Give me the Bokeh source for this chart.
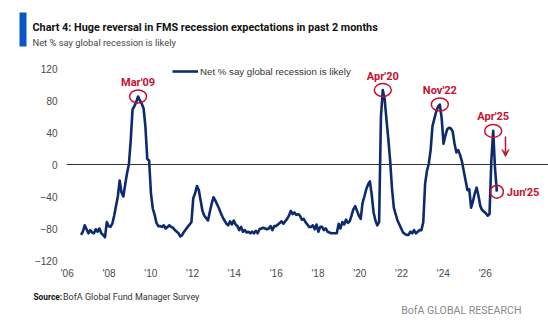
import pandas as pd
from bokeh.plotting import figure
from bokeh.layouts import column
from bokeh.models import (Range1d, LinearAxis, FixedTicker, Label, Span, Legend,
                          LegendItem, Arrow, VeeHead, BoxAnnotation, ColumnDataSource)
from bokeh.embed import file_html
from bokeh.resources import INLINE
from bokeh.core.properties import value

# ---------------- data (monthly, net % saying global recession is likely) ----------------
start_month = "2006-08"
net_recession = [
    # 2006 Aug-Dec
    -88, -84, -76, -81, -86,
    # 2007
    -82, -85, -86, -81, -84, -80, -86, -88, -91, -72, -77, -78,
    # 2008
    -74, -64, -52, -40, -20, -35, -40, -25, -11, 0, 30, 69,
    # 2009
    73, 78, 85, 80, 76, 70, 47, 7, 5, -36, -55, -63,
    # 2010
    -73, -77, -77, -78, -76, -80, -78, -76, -78, -79, -82, -84,
    # 2011
    -86, -90, -88, -84, -81, -78, -75, -72, -42, -36, -27, -32,
    # 2012
    -45, -58, -64, -67, -70, -59, -49, -41, -45, -50, -55, -61,
    # 2013
    -66, -70, -74, -76, -71, -75, -70, -75, -77, -82, -78, -84,
    # 2014
    -82, -85, -84, -86, -84, -86, -83, -86, -81, -80, -79, -80,
    # 2015
    -81, -80, -77, -82, -77, -77, -75, -73, -71, -74, -71, -68,
    # 2016
    -64, -58, -62, -60, -63, -62, -64, -69, -68, -72, -75, -78,
    # 2017
    -78, -76, -81, -75, -84, -78, -78, -82, -80, -84, -85, -86,
    # 2018
    -86, -86, -86, -74, -80, -72, -75, -69, -73, -71, -64, -56,
    # 2019
    -52, -58, -64, -68, -48, -40, -31, -25, -21, -38, -60, -70,
    # 2020
    -76, -72, 60, 93, 82, 56, 32, 5, -30, -54, -62, -70,
    # 2021
    -75, -80, -85, -87, -88, -88, -84, -86, -82, -86, -84, -82,
    # 2022
    -82, -72, -24, -8, 1, 18, 48, 57, 66, 72, 75, 58,
    # 2023
    26, 36, 44, 46, 45, 41, 26, 15, 18, 12, 4, -8,
    # 2024
    -20, -32, -31, -54, -46, -36, -29, -39, -52, -57, -59, -61,
    # 2025 Jan-Jun
    -64, -62, 5, 42, -5, -34,
]
series_name = "Net % say global recession is likely"

y_ticks = [-120, -80, -40, 0, 40, 80, 120]
x_tick_years = [2006, 2008, 2010, 2012, 2014, 2016, 2018, 2020, 2022, 2024, 2026]
x_tick_labels = ["'06", "'08", "'10", "'12", "'14", "'16", "'18", "'20", "'22", "'24", "'26"]

callouts = ["Mar'09", "Apr'20", "Nov'22", "Apr'25", "Jun'25"]
callout_months = ["2009-03", "2020-04", "2022-11", "2025-04", "2025-06"]

title_text = "Chart 4: Huge reversal in FMS recession expectations in past 2 months"
subtitle_text = "Net % say global recession is likely"
source_bold = "Source:"
source_text = "BofA Global Fund Manager Survey"
brand_text = "BofA GLOBAL RESEARCH"

# ---------------- derived ----------------
months = pd.period_range(start_month, periods=len(net_recession), freq="M")
x_years = [m.year + (m.month - 1) / 12 for m in months]
src = ColumnDataSource(dict(x=x_years, y=net_recession))

lookup = {str(m): (xx, yy) for m, xx, yy in zip(months, x_years, net_recession)}
cx = [lookup[m][0] for m in callout_months]
cy = [lookup[m][1] for m in callout_months]

NAVY = "#0c2b6e"
RED = "#c8102e"
BLUE = "#0a55c8"
HEAD_FONT = "Roboto"
BODY = "Liberation Sans"

W = 548
HEAD_H, MAIN_H, FOOT_H = 56, 228, 40


def blank_fig(h):
    f = figure(width=W, height=h, output_backend="svg", toolbar_location=None,
               x_range=Range1d(0, W), y_range=Range1d(h, 0),
               x_axis_type=None, y_axis_type=None, title=None, frame_align=False,
               min_border_left=0, min_border_right=0, min_border_top=0, min_border_bottom=0)
    f.outline_line_color = None
    f.background_fill_color = "white"
    f.border_fill_color = "white"
    f.grid.visible = False
    return f


# ---------------- header ----------------
head = blank_fig(HEAD_H)
head.add_layout(BoxAnnotation(left=19, right=26, top=12, bottom=46,
                              fill_color=BLUE, fill_alpha=1, line_color=None))
head.add_layout(Label(x=32, y=26.8, text=title_text, text_font=HEAD_FONT, text_font_style="bold",
                      text_font_size="10.85px", text_color="#111111", text_baseline="alphabetic"))
head.add_layout(Label(x=32, y=41.8, text=subtitle_text, text_font=HEAD_FONT,
                      text_font_size="9.35px", text_color="#444444", text_baseline="alphabetic"))

# ---------------- main chart ----------------
FRAME_TOP, FRAME_BOTTOM, LEFT = 1, 24, 66
p = figure(width=W, height=MAIN_H, output_backend="svg", toolbar_location=None,
           x_range=Range1d(2005.925, 2027.755), y_range=Range1d(-120, 133.75),
           x_axis_type=None, y_axis_type=None, title=None, frame_align=False,
           min_border_left=LEFT, min_border_right=0,
           min_border_top=FRAME_TOP, min_border_bottom=FRAME_BOTTOM)
p.outline_line_color = None
p.background_fill_color = "white"
p.border_fill_color = "white"

yax = LinearAxis(ticker=FixedTicker(ticks=y_ticks))
yax.axis_line_color = None
yax.major_tick_line_color = None
yax.major_tick_out = 0
yax.major_tick_in = 0
yax.minor_tick_line_color = None
yax.major_label_standoff = 9
yax.major_label_text_font = BODY
yax.major_label_text_font_size = "10px"
yax.major_label_text_color = "#4a4a4a"
p.add_layout(yax, "left")

# x labels sit on their own evenly spaced year scale, as in the source chart
p.extra_x_ranges = {"lab": Range1d(2005.967, 2029.03)}
xax = LinearAxis(x_range_name="lab", ticker=FixedTicker(ticks=x_tick_years),
                 major_label_overrides={t: l for t, l in zip(x_tick_years, x_tick_labels)})
xax.axis_line_color = None
xax.major_tick_line_color = None
xax.major_tick_out = 0
xax.major_tick_in = 0
xax.minor_tick_line_color = None
xax.major_label_standoff = 7
xax.major_label_text_font = BODY
xax.major_label_text_font_size = "10px"
xax.major_label_text_color = "#4a4a4a"
p.add_layout(xax, "below")

p.add_layout(Span(location=0, dimension="width", line_color="#333333", line_width=1))

r = p.line("x", "y", source=src, line_color=NAVY, line_width=2.6, line_join="round")

legend = Legend(items=[LegendItem(label=series_name, renderers=[r])],
                location=(172 - LEFT, 183),
                glyph_width=26, glyph_height=12, label_height=12, label_standoff=2,
                padding=0, margin=0, spacing=0,
                background_fill_alpha=0, border_line_color=None,
                label_text_font=BODY, label_text_font_size="9.7px",
                label_text_color="#333333")
p.add_layout(legend)

p.ellipse(x=cx[:4], y=cy[:4], width=17, height=13, width_units="screen", height_units="screen",
          fill_color=None, line_color=RED, line_width=1.5)
p.ellipse(x=cx[4:], y=cy[4:], width=13, height=13, width_units="screen", height_units="screen",
          fill_color=None, line_color=RED, line_width=1.5)
p.text(x=cx[:4], y=cy[:4], text=callouts[:4], y_offset=-14, text_align="center",
       text_baseline="middle", text_color=RED, text_font=value(HEAD_FONT),
       text_font_size="11px", text_font_style="bold")
p.text(x=cx[4:], y=cy[4:], text=callouts[4:], x_offset=10, y_offset=1, text_align="left",
       text_baseline="middle", text_color=RED, text_font=value(HEAD_FONT),
       text_font_size="11px", text_font_style="bold")

p.add_layout(Arrow(x_start=cx[4] + 0.39, y_start=35, x_end=cx[4] + 0.39, y_end=10,
                   line_color=RED, line_width=1.5,
                   end=VeeHead(size=7, fill_color=RED, line_color=RED, line_width=1)))

# ---------------- footer ----------------
foot = blank_fig(FOOT_H)
foot.add_layout(Label(x=33, y=12.5, text=source_bold, text_font=HEAD_FONT, text_font_style="bold",
                      text_font_size="8.3px", text_color="#111111", text_baseline="alphabetic"))
foot.add_layout(Label(x=62.5, y=12.5, text=source_text, text_font=HEAD_FONT,
                      text_font_size="9px", text_color="#333333", text_baseline="alphabetic"))
foot.add_layout(Label(x=521, y=25.5, text=brand_text, text_font=HEAD_FONT,
                      text_font_size="10.6px", text_color="#8a8a8a", text_align="right",
                      text_baseline="alphabetic"))

layout = column(head, p, foot, spacing=0)
open("out.html", "w").write(file_html(layout, INLINE))
